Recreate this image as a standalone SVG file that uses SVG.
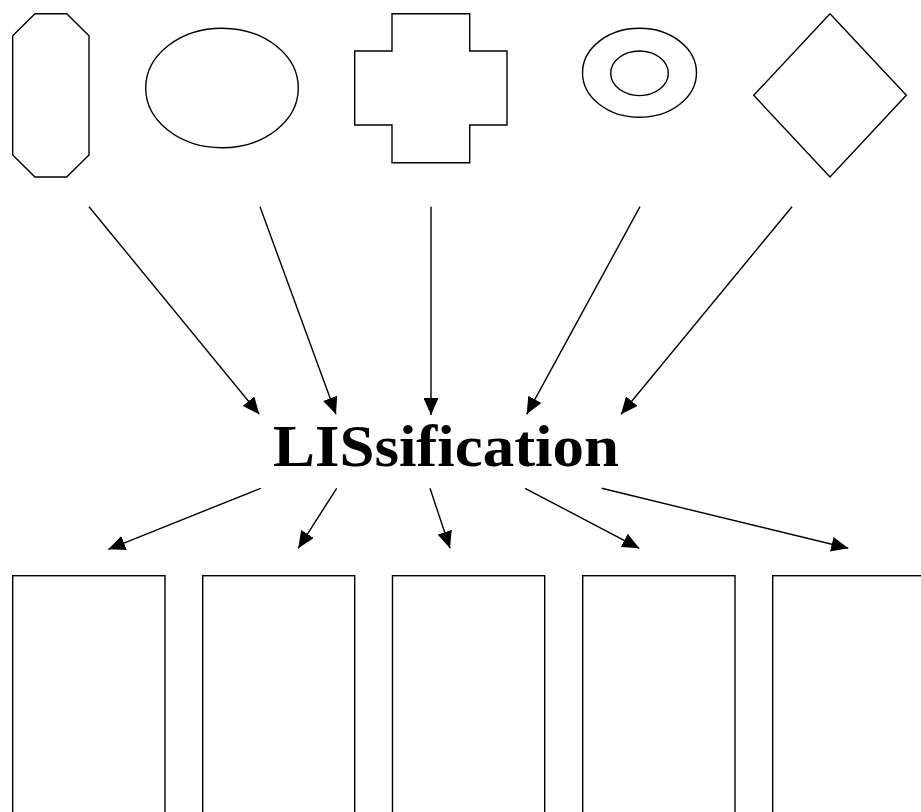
<svg xmlns="http://www.w3.org/2000/svg" width="921" height="812" viewBox="0 0 921 812">
<style>
.s{fill:#fff;stroke:#000;stroke-width:1.4}
.c{stroke:#000;stroke-width:1.4;fill:none;marker-end:url(#ah)}
.t{font-family:"Liberation Serif","DejaVu Serif",serif;font-weight:bold;font-size:60px;fill:#000}
</style>
<defs>
<marker id="ah" markerUnits="userSpaceOnUse" markerWidth="17" markerHeight="15" refX="17" refY="7.5" orient="auto">
<path d="M0,0 L17,7.5 L0,15 Z" fill="#000"/>
</marker>
</defs>
<rect width="921" height="812" fill="#fff"/>
<g id="octagon"><polygon class="s" points="35,13.7 66.7,13.7 89,35.7 89,155 66.7,177 35,177 12.7,155 12.7,35.7"/></g>
<g id="ellipse"><ellipse class="s" cx="222" cy="88" rx="76.3" ry="59.7"/></g>
<g id="cross"><polygon class="s" points="392,13.7 469.7,13.7 469.7,51 507,51 507,125 469.7,125 469.7,162.7 392,162.7 392,125 354.7,125 354.7,51 392,51"/></g>
<g id="donut"><ellipse class="s" cx="639.5" cy="72.8" rx="57" ry="44.5"/><ellipse class="s" cx="639.5" cy="73.3" rx="28.8" ry="22.3"/></g>
<g id="diamond"><polygon class="s" points="830,13.7 906.3,95.3 830,177 753.7,95.3"/></g>
<g id="center"><text class="t" x="273" y="466" textLength="346" lengthAdjust="spacingAndGlyphs">LISsification</text></g>
<g id="box1"><rect class="s" x="12.7" y="575.7" width="152.3" height="260"/></g>
<g id="box2"><rect class="s" x="202.7" y="575.7" width="152" height="260"/></g>
<g id="box3"><rect class="s" x="392.5" y="575.7" width="152.2" height="260"/></g>
<g id="box4"><rect class="s" x="582.7" y="575.7" width="152.3" height="260"/></g>
<g id="box5"><rect class="s" x="772.7" y="575.7" width="160" height="260"/></g>
<g id="connectors">
<line class="c" x1="89" y1="206.7" x2="259.3" y2="414.3"/>
<line class="c" x1="260" y1="206.7" x2="336" y2="414.3"/>
<line class="c" x1="431" y1="206.7" x2="431" y2="415"/>
<line class="c" x1="640" y1="206.7" x2="526.7" y2="414.3"/>
<line class="c" x1="792" y1="206.7" x2="621" y2="414.3"/>
<line class="c" x1="260.7" y1="488.3" x2="108.3" y2="549.3"/>
<line class="c" x1="336.7" y1="488.3" x2="298.3" y2="548.3"/>
<line class="c" x1="430" y1="488.3" x2="450" y2="548.3"/>
<line class="c" x1="525" y1="488.3" x2="639.3" y2="548.3"/>
<line class="c" x1="601.7" y1="488.3" x2="848.3" y2="548.3"/>
</g>
</svg>
